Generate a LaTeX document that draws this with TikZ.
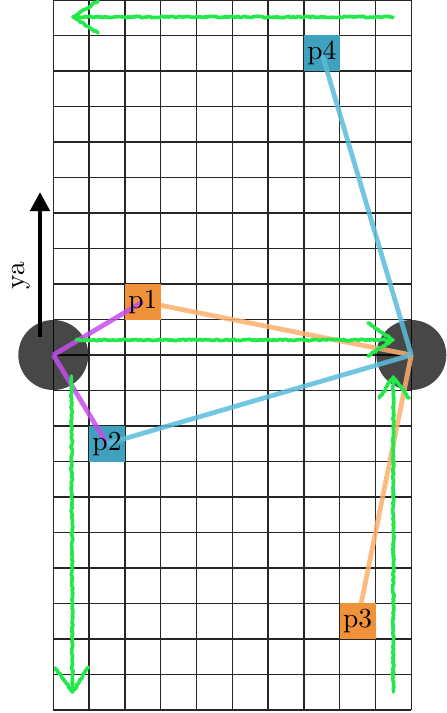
\documentclass[tikz,border=0pt]{standalone}
\usepackage{graphicx}
\usetikzlibrary{arrows.meta,calc,backgrounds,decorations.pathmorphing}
\definecolor{boxorange}{HTML}{F0923A}
\definecolor{boxteal}{HTML}{3FA1BD}
\definecolor{lnorange}{HTML}{FDAE6B}
\definecolor{lnblue}{HTML}{5BBCDC}
\definecolor{lnmag}{HTML}{C44CEE}
\definecolor{hand}{HTML}{22E84A}
\newcommand{\bigtxt}[1]{\scalebox{2.75}{\fontsize{10}{12}\selectfont #1}}
\tikzset{
  gridline/.style={line width=1.3pt, black!85},
  ball/.style={circle, minimum size=70pt, inner sep=0pt},
  lbl/.style={minimum width=35.8pt, minimum height=35.5pt, inner sep=0pt},
  conn/.style={line width=4.8pt, opacity=0.85},
  handline/.style={hand, line width=3.6pt, line cap=round, line join=round,
    decorate, decoration={random steps, segment length=1.8pt, amplitude=0.8pt}},
}
\begin{document}
\begin{tikzpicture}[x=1pt, y=-1pt]
\useasboundingbox (0,0) rectangle (447,713);
% nodes (text on main layer)
\node[ball] (L) at (53.3,355) {};
\node[ball] (R) at (411.3,355) {};
\node[lbl] (p1) at (142.8,301.75) {\bigtxt{p1}};
\node[lbl] (p2) at (107.0,443.75) {\bigtxt{p2}};
\node[lbl] (p3) at (357.6,621.25) {\bigtxt{p3}};
\node[lbl] (p4) at (321.8,53.25) {\bigtxt{p4}};
\begin{pgfonlayer}{background}
  \foreach \i in {0,...,10} \draw[gridline] ({53.3+35.8*\i},0) -- ({53.3+35.8*\i},710);
  \foreach \j in {0,...,20} \draw[gridline] (53.3,{35.5*\j}) -- (411.3,{35.5*\j});
  \fill[black, fill opacity=0.72] (L.center) circle (35pt);
  \fill[black, fill opacity=0.72] (R.center) circle (35pt);
  \fill[boxorange] (p1.south west) rectangle (p1.north east);
  \fill[boxteal] (p2.south west) rectangle (p2.north east);
  \fill[boxorange] (p3.south west) rectangle (p3.north east);
  \fill[boxteal] (p4.south west) rectangle (p4.north east);
  \draw[conn, lnmag] (L.center) -- (p1.center);
  \draw[conn, lnmag] (L.center) -- (p2.center);
  \draw[conn, lnorange] (p1) -- (R.center);
  \draw[conn, lnorange] (p3) -- (R.center);
  \draw[conn, lnblue] (p4.center) -- (R.center);
  \draw[conn, lnblue] (p2.center) -- (R.center);
\end{pgfonlayer}
% ya arrow
\coordinate (ya0) at (40,337);
\coordinate (ya1) at (40,192);
\draw[line width=4.5pt, -{Triangle[length=19pt,width=19pt]}] (ya0) -- (ya1);
\node[rotate=90] (ya) at (21,276) {\bigtxt{ya}};
% green hand-drawn arrows
\coordinate (t0) at (393,17);   \coordinate (t1) at (73,17);
\coordinate (m0) at (76,340);   \coordinate (m1) at (393,340);
\coordinate (l0) at (71.5,376); \coordinate (l1) at (72.5,692);
\coordinate (r0) at (393.3,692);\coordinate (r1) at (393.3,377);
\draw[handline] (t0) -- (t1);
\draw[handline] ($(t1)+(25,-16)$) -- (t1) -- ($(t1)+(25,16)$);
\draw[handline] (m0) -- (m1);
\draw[handline] ($(m1)+(-25,-17)$) -- (m1) -- ($(m1)+(-25,16)$);
\draw[handline] (l0) -- (l1);
\draw[handline] ($(l1)+(-17,-24)$) -- (l1) -- ($(l1)+(16,-25)$);
\draw[handline] (r0) -- (r1);
\draw[handline] ($(r1)+(-14,21)$) -- (r1) -- ($(r1)+(16,21)$);
\end{tikzpicture}
\end{document}
